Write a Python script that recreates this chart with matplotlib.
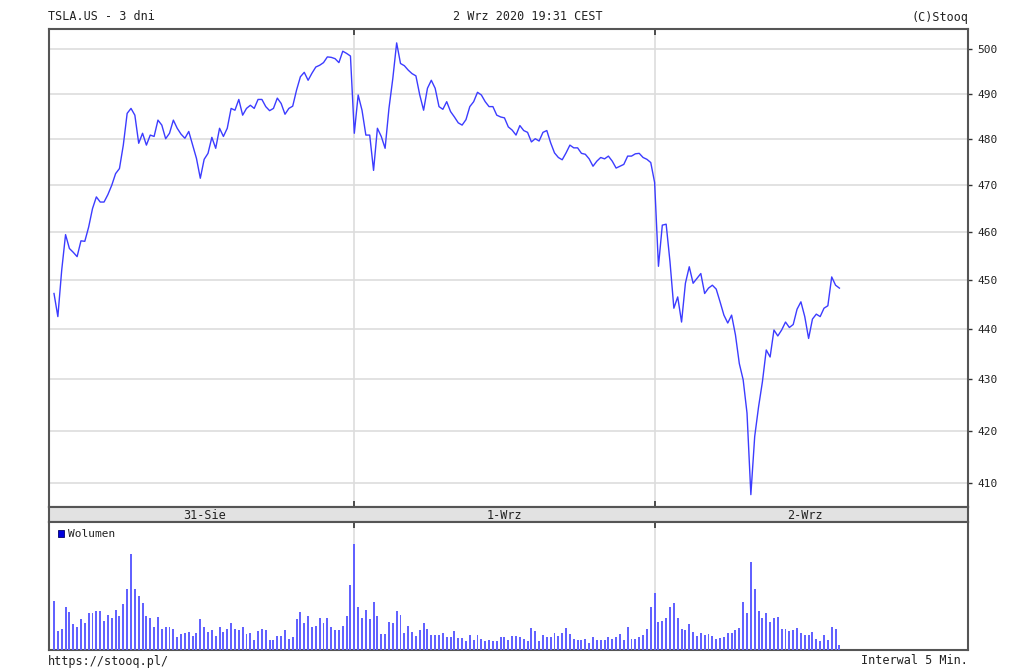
import numpy as np
import matplotlib
matplotlib.use("Agg")
import matplotlib.pyplot as plt
from matplotlib.patches import Rectangle
from matplotlib.ticker import FixedLocator, FuncFormatter, NullLocator

# TSLA.US, 5-min bars, three sessions
days = ["31-Sie", "1-Wrz", "2-Wrz"]
bars_per_day = 78
price_ticks = [410, 420, 430, 440, 450, 460, 470, 480, 490, 500]

price_31sie = [447.2, 442.5, 452.0, 459.4, 456.5, 455.7, 454.8, 458.1, 458.0, 461.0,
               464.9, 467.4, 466.3, 466.3, 467.9, 469.9, 472.4, 473.5, 478.6, 485.6,
               486.7, 485.2, 479.0, 481.2, 478.6, 480.8, 480.5, 484.1, 483.0, 480.0,
               481.2, 484.1, 482.3, 481.0, 480.1, 481.6, 478.6, 475.7, 471.4, 475.5,
               476.8, 480.3, 477.9, 482.3, 480.5, 482.3, 486.7, 486.3, 488.7, 485.2,
               486.7, 487.4, 486.7, 488.7, 488.7, 487.1, 486.2, 486.7, 489.0, 487.8,
               485.4, 486.7, 487.2, 490.8, 493.8, 494.8, 493.0, 494.6, 496.0, 496.4,
               497.0, 498.3, 498.2, 497.9, 497.0, 499.6, 499.1, 498.5]
price_1wrz = [481.2, 489.7, 486.3, 480.8, 480.8, 473.1, 482.3, 480.5, 477.9, 486.7,
              493.4, 501.5, 496.8, 496.3, 495.3, 494.5, 494.0, 489.7, 486.3, 491.2,
              493.0, 491.2, 487.1, 486.5, 488.2, 486.0, 484.8, 483.5, 483.0, 484.2,
              487.1, 488.2, 490.3, 489.7, 488.2, 487.1, 487.1, 485.2, 484.8, 484.6,
              482.6, 481.9, 480.8, 482.9, 481.8, 481.4, 479.3, 480.0, 479.5, 481.4,
              481.8, 479.1, 476.9, 475.9, 475.4, 476.9, 478.6, 478.0, 478.0, 476.8,
              476.6, 475.6, 474.0, 475.1, 475.9, 475.6, 476.2, 475.1, 473.6, 474.0,
              474.4, 476.2, 476.2, 476.7, 476.8, 475.9, 475.5, 474.8]
price_2wrz = [470.5, 452.8, 461.4, 461.6, 453.7, 444.2, 446.5, 441.4, 449.3, 452.7,
              449.3, 450.3, 451.3, 447.2, 448.3, 448.9, 448.1, 445.5, 442.8, 441.2,
              442.8, 438.8, 433.1, 429.9, 423.4, 407.9, 418.9, 424.6, 429.5, 435.8,
              434.4, 439.8, 438.6, 439.8, 441.4, 440.3, 440.9, 444.0, 445.5, 442.5,
              438.1, 442.0, 443.0, 442.5, 444.2, 444.7, 450.6, 448.9, 448.3]

vol_31sie = [740, 285, 315, 650, 565, 385, 350, 460, 400, 550,
             550, 585, 585, 440, 525, 475, 600, 510, 690, 910,
             1440, 910, 815, 710, 510, 475, 350, 490, 315, 350,
             340, 315, 190, 240, 260, 275, 210, 260, 460, 350,
             265, 300, 210, 350, 275, 315, 400, 315, 300, 350,
             240, 260, 150, 285, 310, 300, 150, 150, 210, 215,
             300, 165, 190, 460, 565, 400, 510, 350, 365, 475,
             400, 475, 350, 300, 300, 365, 510, 975]
vol_1wrz = [1590, 650, 475, 600, 460, 725, 510, 235, 235, 415,
            400, 585, 525, 260, 365, 275, 210, 300, 400, 315,
            220, 220, 220, 250, 200, 190, 290, 175, 175, 135,
            220, 150, 220, 170, 135, 150, 135, 135, 190, 190,
            150, 210, 210, 190, 165, 135, 335, 285, 135, 220,
            190, 200, 260, 210, 260, 335, 240, 165, 150, 150,
            165, 110, 200, 150, 150, 150, 190, 165, 200, 240,
            150, 350, 170, 170, 190, 220, 310, 650]
vol_2wrz = [850, 415, 440, 475, 640, 710, 475, 310, 300, 385,
            275, 210, 260, 220, 235, 210, 165, 175, 190, 260,
            260, 300, 335, 725, 550, 1315, 910, 585, 475, 550,
            415, 475, 490, 310, 310, 285, 300, 335, 260, 220,
            220, 275, 165, 135, 220, 150, 350, 315, 75]

price = price_31sie + price_1wrz + price_2wrz
volume = vol_31sie + vol_1wrz + vol_2wrz
idx = np.arange(len(price))

W, H = 1024, 671
mono = "DejaVu Sans Mono"
frame_col = "#555555"
grid_col = "#dddddd"
xlim = (-1.3, 3 * bars_per_day + 3.4)
day_lines = [bars_per_day, 2 * bars_per_day]

fig = plt.figure(figsize=(W / 100, H / 100), dpi=100, facecolor="white")


def box(x0, y0, x1, y1):
    return [x0 / W, 1 - y1 / H, (x1 - x0) / W, (y1 - y0) / H]


ax = fig.add_axes(box(49, 29, 968, 507))
band = fig.add_axes(box(49, 507, 968, 522))
axv = fig.add_axes(box(49, 522, 968, 650))

# price panel
ax.plot(idx, price, color="#3c3cff", lw=1.0, zorder=3)
ax.set_yscale("log")
ax.set_ylim(405.6, 504.7)
ax.set_xlim(*xlim)
ax.yaxis.set_major_locator(FixedLocator(price_ticks))
ax.yaxis.set_minor_locator(NullLocator())
ax.yaxis.set_major_formatter(FuncFormatter(lambda v, p: "%d" % round(v)))
ax.yaxis.tick_right()
ax.tick_params(axis="y", direction="out", length=3, width=1, color="#333333",
               labelsize=8, labelcolor="#222222", pad=4)
ax.set_xticks(day_lines)
ax.tick_params(axis="x", direction="in", top=True, bottom=True, length=4,
               width=1.2, color="#333333", labelbottom=False)
ax.grid(True, color=grid_col, lw=1.2, zorder=0)
for t in ax.get_yticklabels():
    t.set_family(mono)

# date band
band.set_facecolor("#e2e2e2")
band.set_xlim(*xlim)
band.set_ylim(0, 1)
band.set_xticks([])
band.set_yticks([])
for k, d in enumerate(days):
    band.text(bars_per_day * (k + 0.5), 0.45, d, ha="center", va="center",
              family=mono, fontsize=8.5, color="#222222")

# volume panel
axv.bar(idx, volume, width=0.5, color="#6262ff", antialiased=False, zorder=3)
axv.set_xlim(*xlim)
axv.set_ylim(0, 1920)
axv.set_yticks([])
axv.set_xticks(day_lines)
axv.tick_params(axis="x", direction="in", top=True, bottom=False, length=4,
                width=1.2, color="#333333", labelbottom=False)
axv.grid(True, axis="x", color=grid_col, lw=1.2, zorder=0)

for a in (ax, band, axv):
    for s in a.spines.values():
        s.set_color(frame_col)
        s.set_linewidth(1.5)

# legend
fig.patches.append(Rectangle((58 / W, 1 - 537 / H), 6 / W, 7 / H, transform=fig.transFigure,
                             facecolor="#0000dd", edgecolor="#000066", lw=0.6))
fig.text(68 / W, 1 - 534 / H, "Wolumen", ha="left", va="center", family=mono,
         fontsize=8, color="#222222")

# header / footer
fig.text(48 / W, 1 - 17 / H, "TSLA.US - 3 dni", ha="left", va="center", family=mono,
         fontsize=8.5, color="#222222")
fig.text(528 / W, 1 - 17 / H, "2 Wrz 2020 19:31 CEST", ha="center", va="center",
         family=mono, fontsize=8.5, color="#222222")
fig.text(968 / W, 1 - 17 / H, "(C)Stooq", ha="right", va="center", family=mono,
         fontsize=8.5, color="#222222")
fig.text(48 / W, 1 - 661 / H, "https://stooq.pl/", ha="left", va="center", family=mono,
         fontsize=8.5, color="#222222")
fig.text(968 / W, 1 - 661 / H, "Interwal 5 Min.", ha="right", va="center", family=mono,
         fontsize=8.5, color="#222222")

fig.savefig("out.png", dpi=100, facecolor="white")
